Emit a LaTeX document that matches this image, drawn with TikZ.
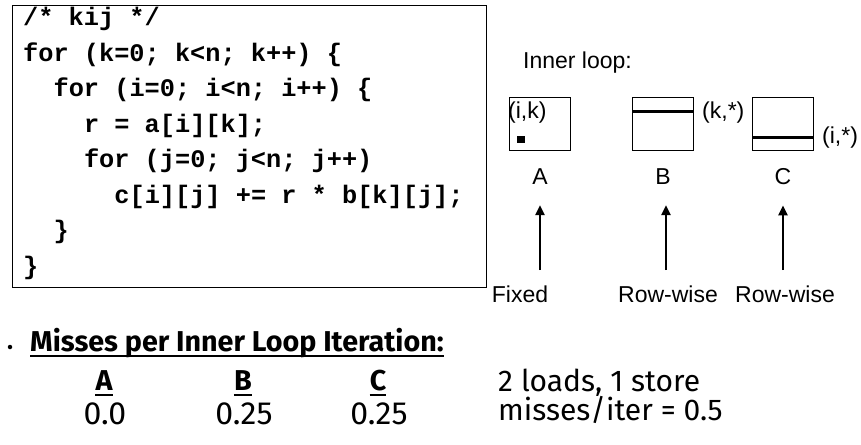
\documentclass[tikz,border=0pt]{standalone}
\usepackage{fontspec}
\setmainfont{Liberation Sans}
\newfontfamily\codefont{Liberation Mono}
\newfontfamily\notefont{Fira Sans}
\usetikzlibrary{arrows.meta,positioning}

\begin{document}
\begin{tikzpicture}[
    x=1pt, y=-1pt,
    >=Latex,
    codeline/.style={anchor=base west, inner sep=0pt,
        font=\codefont\bfseries\fontsize{25.3}{30}\selectfont},
    sanstext/.style={inner sep=0pt, font=\fontsize{23}{27}\selectfont},
    matrixbox/.style={draw, line width=1pt, minimum width=61pt,
        minimum height=53pt, inner sep=0pt},
    rowline/.style={line width=3pt},
    accessarrow/.style={-{Triangle[length=10pt,width=9pt]}, line width=2.5pt},
    notetext/.style={inner sep=0pt, anchor=base,
        font=\notefont\fontsize{30}{34}\selectfont},
    numtext/.style={notetext, font=\notefont\fontsize{32}{36}\selectfont},
    headtext/.style={notetext, font=\notefont\bfseries\fontsize{28.7}{32}\selectfont},
    uline/.style={line width=1.5pt},
]
\useasboundingbox (0,0) rectangle (861,444);

% code listing
\node[draw, line width=1pt, anchor=north west, minimum width=474pt,
    minimum height=282pt, inner sep=0pt] (frame) at (12,5) {};
\foreach \ind/\txt [count=\n] in {
    0/{/* kij */},
    0/{for (k=0; k<n; k++) \{},
    2/{for (i=0; i<n; i++) \{},
    4/{r = a[i][k];},
    4/{for (j=0; j<n; j++)},
    6/{c[i][j] += r * b[k][j];},
    2/{\}},
    0/{\}}}
    \node[codeline] (line\n) at ({23+15.2*\ind}, {25.5+35.5*(\n-1)}) {\txt};

% inner loop access pattern
\node[sanstext, anchor=base west] (inner) at (523,68) {Inner loop:};

\node[matrixbox] (matA) at (540,123.5) {};
\node[matrixbox] (matB) at (663,123.5) {};
\node[matrixbox] (matC) at (783,123.5) {};

\node[fill, minimum width=8pt, minimum height=7pt, inner sep=0pt] (elemA) at (521,139.5) {};
\draw[rowline] ([yshift=-15pt]matB.north west) -- ([yshift=-15pt]matB.north east);
\draw[rowline] ([yshift=13pt]matC.south west) -- ([yshift=13pt]matC.south east);

\node[sanstext, anchor=west] (ikLab) at (508,113) {(i,k)};
\node[sanstext, anchor=west] (kLab) at (702,113) {(k,*)};
\node[sanstext, anchor=west] (iLab) at (822,138) {(i,*)};

\node[sanstext] (nameA) at (540,177) {A};
\node[sanstext] (nameB) at (663,177) {B};
\node[sanstext] (nameC) at (783,177) {C};

\coordinate (fromA) at (540,270);
\coordinate (fromB) at (666,270);
\coordinate (fromC) at (783,270);
\draw[accessarrow, shorten >=20pt] (fromA) -- (nameA.south);
\draw[accessarrow, shorten >=20pt] (fromB) -- (nameB.south -| fromB);
\draw[accessarrow, shorten >=20pt] (fromC) -- (nameC.south);

\node[sanstext] (fixed) at (520,294) {Fixed};
\node[sanstext] (rowB) at (668,294) {Row-wise};
\node[sanstext] (rowC) at (785,294) {Row-wise};

% misses per iteration
\node[circle, fill, inner sep=0pt, minimum size=4.5pt] (bullet) at (10,347) {};
\node[headtext, anchor=base west] (title) at (30,351) {Misses per Inner Loop Iteration:};
\draw[uline] ([yshift=-5pt]title.base west) -- ([yshift=-5pt]title.base east);

\node[headtext] (colA) at (104,390) {A};
\node[headtext] (colB) at (243,390) {B};
\node[headtext] (colC) at (378,390) {C};
\foreach \c in {colA,colB,colC}
    \draw[uline] ([yshift=-5pt]\c.base west) -- ([yshift=-5pt]\c.base east);

\node[numtext] (missA) at (105,424) {0.0};
\node[numtext] (missB) at (244,424) {0.25};
\node[numtext] (missC) at (379,424) {0.25};

\node[notetext, anchor=base west] (loads) at (498,391) {2 loads, 1 store};
\node[notetext, anchor=base west] (total) at (498,420) {misses/iter = 0.5};
\end{tikzpicture}
\end{document}
